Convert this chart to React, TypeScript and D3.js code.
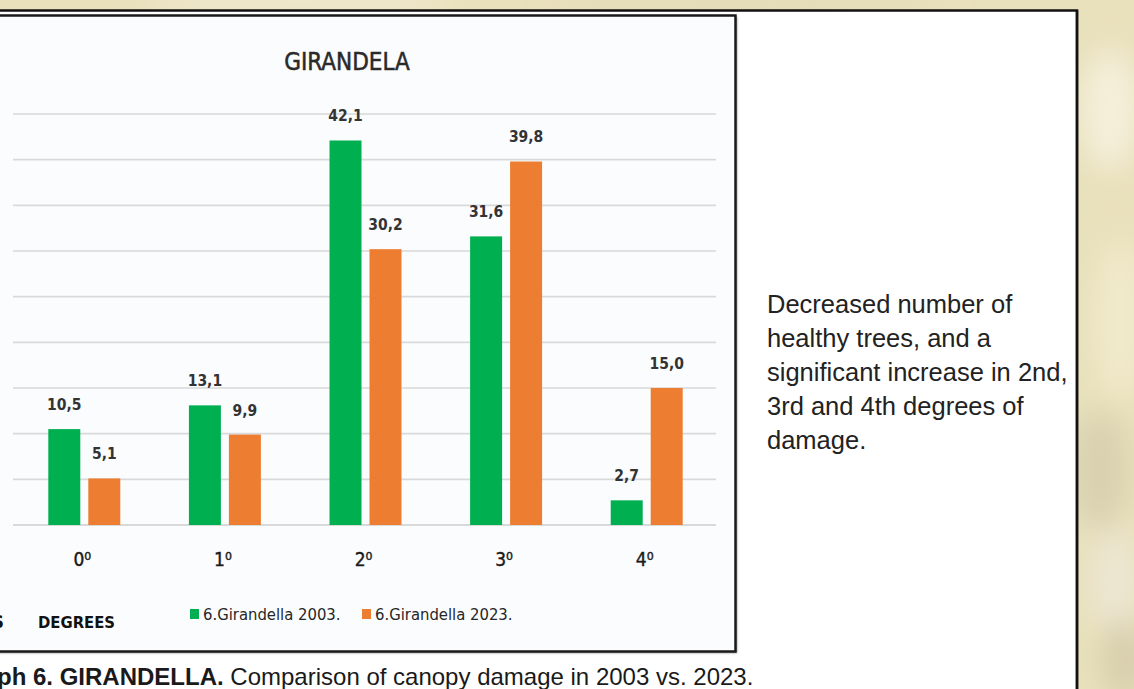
import React from 'react';
import * as d3 from 'd3';

const categories = ['0⁰', '1⁰', '2⁰', '3⁰', '4⁰'];
const series2003 = [10.5, 13.1, 42.1, 31.6, 2.7];
const series2023 = [5.1, 9.9, 30.2, 39.8, 15.0];
const seriesNames = ['6.Girandella 2003.', '6.Girandella 2023.'];
const seriesColors = ['#00b050', '#ed7d31'];
const yTicks = [0, 5, 10, 15, 20, 25, 30, 35, 40, 45];
const noteLines = [
  'Decreased number of',
  'healthy trees, and a',
  'significant increase in 2nd,',
  '3rd and 4th degrees of',
  'damage.',
];

const W = 1134, H = 689;
const narrow = '"Liberation Sans Narrow", "DejaVu Sans Condensed", "Roboto", sans-serif';
const arial = '"Liberation Sans", Arial, sans-serif';

const fmt = (v: number) => v.toFixed(1).replace('.', ',');

export default function App() {
  // scales
  const y = d3.scaleLinear().domain([0, 45]).range([525, 114]);
  const x0 = d3.scaleBand<string>()
    .domain(categories)
    .range([14, 717])
    .paddingInner(0.488)
    .paddingOuter(0.244);
  const x1 = d3.scaleBand<number>()
    .domain([0, 1])
    .range([0, x0.bandwidth()])
    .paddingInner(0.2);

  const groups = categories.map((c, i) => ({ c, vals: [series2003[i], series2023[i]] }));

  return (
    <div style={{ position: 'absolute', left: 0, top: 0 }}>
      <svg width={W} height={H} style={{ display: 'block' }}>
        <defs>
          <filter id="blur" x="-50%" y="-50%" width="200%" height="200%">
            <feGaussianBlur stdDeviation="14" />
          </filter>
          <filter id="shadow" x="-5%" y="-5%" width="110%" height="110%">
            <feGaussianBlur stdDeviation="1.2" />
          </filter>
        </defs>

        {/* textured beige backdrop */}
        <rect x={0} y={0} width={W} height={H} fill="#e9e0bc" />
        <g filter="url(#blur)">
          <ellipse cx={1110} cy={110} rx={30} ry={60} fill="#f4efda" />
          <ellipse cx={1120} cy={320} rx={25} ry={80} fill="#f1eacb" />
          <ellipse cx={1100} cy={470} rx={30} ry={60} fill="#d9d1b0" />
          <ellipse cx={1115} cy={580} rx={25} ry={50} fill="#ece6d2" />
          <ellipse cx={1125} cy={660} rx={25} ry={40} fill="#d8cfae" />
          <ellipse cx={300} cy={2} rx={160} ry={8} fill="#f4efdb" />
          <ellipse cx={750} cy={4} rx={200} ry={8} fill="#e0d8b8" />
        </g>

        {/* outer slide panel */}
        <rect x={-10} y={10.5} width={1087} height={700} fill="#ffffff" stroke="#111" strokeWidth={2.5} />

        {/* note text */}
        <g fontFamily={arial} fontSize={25.5} fill="#222">
          {noteLines.map((l, i) => (
            <text key={i} x={767} y={313 + i * 34}>{l}</text>
          ))}
        </g>
        <line x1={1077} y1={10} x2={1077} y2={H} stroke="#111" strokeWidth={2.5} />

        {/* caption */}
        <text x={-3} y={685} fontFamily={arial} fontSize={24} fill="#1a1a1a">
          <tspan fontWeight="bold">ph 6. GIRANDELLA.</tspan>
          <tspan> Comparison of canopy damage in 2003 vs.  2023.</tspan>
        </text>

        {/* inner chart frame */}
        <rect x={-10} y={17} width={747} height={636} fill="#888" filter="url(#shadow)" />
        <rect x={-10} y={15.5} width={745.5} height={636} fill="#fbfcfe" stroke="#1a1a1a" strokeWidth={2.5} />

        {/* title */}
        <text x={347} y={70} textAnchor="middle" fontFamily={narrow} fontSize={24}
          fill="#2a2a2a" stroke="#2a2a2a" strokeWidth={0.5}>GIRANDELA</text>

        {/* gridlines */}
        <g>
          {yTicks.map(t => (
            <line key={t} x1={13} x2={716} y1={y(t)} y2={y(t)}
              stroke="#d9d9d9" strokeWidth={t === 0 ? 2 : 1.6} />
          ))}
        </g>

        {/* bars */}
        {groups.map(g => (
          <g key={g.c} transform={`translate(${x0(g.c)},0)`}>
            {g.vals.map((v, j) => (
              <g key={j}>
                <rect x={x1(j)} y={y(v)} width={x1.bandwidth()} height={y(0) - y(v)} fill={seriesColors[j]} />
                <text x={(x1(j) as number) + x1.bandwidth() / 2} y={y(v) - 19} textAnchor="middle"
                  fontFamily={narrow} fontSize={15.5} fontWeight="bold" fill="#333">{fmt(v)}</text>
              </g>
            ))}
          </g>
        ))}

        {/* category labels */}
        {categories.map(c => (
          <text key={c} x={(x0(c) as number) + x0.bandwidth() / 2 - 2} y={566} textAnchor="middle"
            fontFamily={narrow} fontSize={19} fill="#1a1a1a" stroke="#1a1a1a" strokeWidth={0.4}>{c}</text>
        ))}

        {/* axis titles */}
        <text x={4} y={628} textAnchor="end" fontFamily={narrow} fontSize={18} fontWeight="bold" fill="#111">S</text>
        <text x={38} y={628} fontFamily={narrow} fontSize={16.5} fontWeight="bold" fill="#111">DEGREES</text>

        {/* legend */}
        {seriesNames.map((n, i) => {
          const lx = [190, 362][i];
          return (
            <g key={n}>
              <rect x={lx} y={609} width={9} height={10} fill={seriesColors[i]} />
              <text x={lx + 13} y={620} fontFamily={narrow} fontSize={16.5} fill="#262626">{n}</text>
            </g>
          );
        })}
      </svg>
    </div>
  );
}
